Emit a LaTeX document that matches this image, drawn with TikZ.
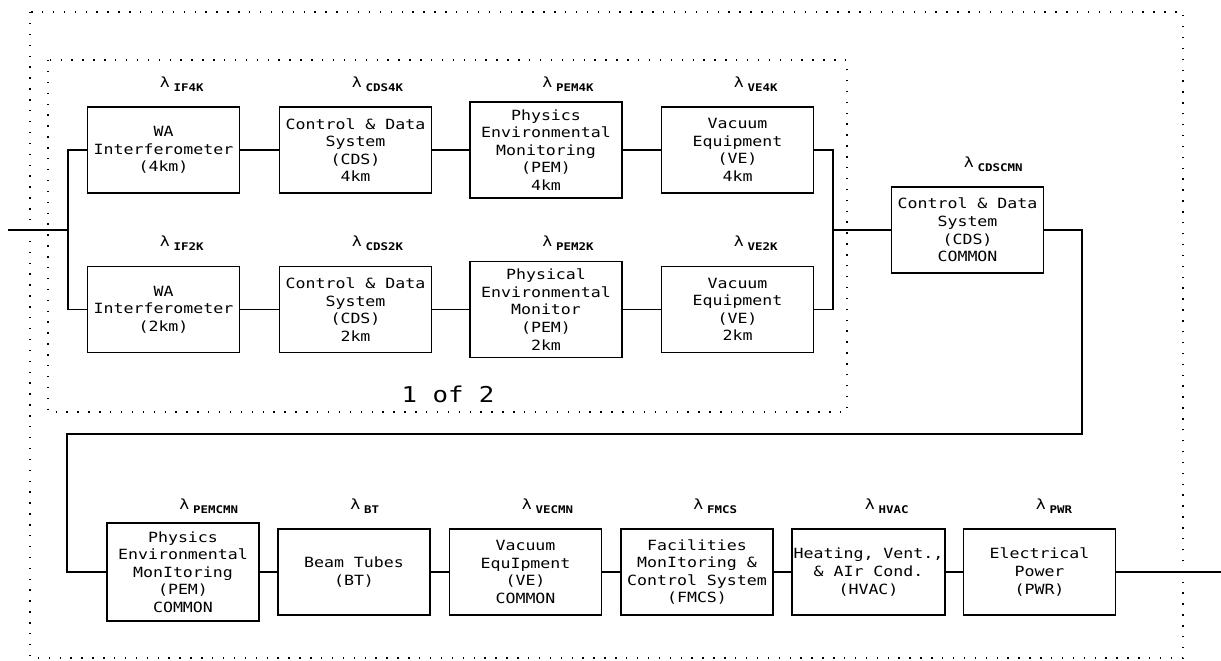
\documentclass[tikz,border=0pt]{standalone}
\usepackage{fontspec}
\setmainfont{DejaVu Sans Mono}[FakeStretch=1.18]

\newcommand{\lamsub}[1]{λ\hspace{2.2pt}\raisebox{-2.3pt}{\fontsize{6}{6}\selectfont\bfseries #1}}

\begin{document}
\begin{tikzpicture}[
    x=0.2mm,
    y=-0.2mm,
    every node/.style={font=\fontsize{8}{10}\selectfont},
    unit/.style={draw=black, line width=1.1pt, minimum width=30.4mm, minimum height=17.2mm, align=center, inner sep=1pt},
    pemunit/.style={unit, minimum height=19.2mm},
    wire/.style={draw=black, line width=0.8pt},
    frame/.style={draw=black, line width=0.9pt, dash pattern=on 0.8pt off 5.4pt},
    lam/.style={anchor=west, inner sep=0pt}
  ]
    \useasboundingbox (0,0) rectangle (1221,660);
    \draw[frame] (30,12) rectangle (1183,658);
    \draw[frame] (48,60) rectangle (847,412);
    % 4km chain
    \node[unit] (if4k) at (163.5,150) {WA\\Interferometer\\(4km)};
    \node[unit] (cds4k) at (355.5,150) {Control \& Data\\System\\(CDS)\\4km};
    \node[pemunit] (pem4k) at (546,150) {Physics\\Environmental\\Monitoring\\(PEM)\\4km};
    \node[unit] (ve4k) at (737.5,150) {Vacuum\\Equipment\\(VE)\\4km};
    % 2km chain
    \node[unit] (if2k) at (163.5,309.5) {WA\\Interferometer\\(2km)};
    \node[unit] (cds2k) at (355.5,309.5) {Control \& Data\\System\\(CDS)\\2km};
    \node[pemunit] (pem2k) at (546,309.5) {Physical\\Environmental\\Monitor\\(PEM)\\2km};
    \node[unit] (ve2k) at (737.5,309.5) {Vacuum\\Equipment\\(VE)\\2km};
    \node[font=\fontsize{12.4}{14}\selectfont] (part) at (448,394) {1 of 2};
    % common
    \node[unit] (cdscmn) at (967.5,230) {Control \& Data\\System\\(CDS)\\COMMON};
    \node[pemunit, minimum height=19.6mm] (pemcmn) at (183,572) {Physics\\Environmental\\MonItoring\\(PEM)\\COMMON};
    \node[unit] (bt) at (354,572) {Beam Tubes\\(BT)};
    \node[unit] (vecmn) at (525.5,572) {Vacuum\\EquIpment\\(VE)\\COMMON};
    \node[unit] (fmcs) at (697,572) {Facilities\\MonItoring \&\\Control System\\(FMCS)};
    \node[unit] (hvac) at (868.5,572) {Heating, Vent.,\\\& AIr Cond.\\(HVAC)};
    \node[unit] (pwr) at (1039.5,572) {Electrical\\Power\\(PWR)};
    \foreach \n/\s in {if4k/IF4K, cds4k/CDS4K, pem4k/PEM4K, ve4k/VE4K, if2k/IF2K, cds2k/CDS2K, pem2k/PEM2K, ve2k/VE2K, cdscmn/CDSCMN, pemcmn/PEMCMN, bt/BT, vecmn/VECMN, fmcs/FMCS, hvac/HVAC, pwr/PWR}
      \node[lam] (lam-\n) at ([shift={(-4,-66)}]\n.center) {\lamsub{\s}};
    % wiring
    \coordinate (in) at (8,230);
    \coordinate (jl) at (68,230);
    \coordinate (jr) at (833,230);
    \coordinate (rt) at (1082,434);
    \coordinate (lt) at (67,434);
    \coordinate (out) at (1221,572);
    \draw[wire] (in) -- (jl);
    \draw[wire] (if4k.west) -| (jl) |- (if2k.west);
    \draw[wire] (ve4k.east) -| (jr) |- (ve2k.east);
    \draw[wire] (jr) -- (cdscmn.west);
    \foreach \a/\b in {if4k/cds4k, cds4k/pem4k, pem4k/ve4k, if2k/cds2k, cds2k/pem2k, pem2k/ve2k, pemcmn/bt, bt/vecmn, vecmn/fmcs, fmcs/hvac, hvac/pwr}
      \draw[wire] (\a) -- (\b);
    \draw[wire] (cdscmn.east) -| (rt) -- (lt) |- (pemcmn.west);
    \draw[wire] (pwr) -- (out);
  \end{tikzpicture}
\end{document}
